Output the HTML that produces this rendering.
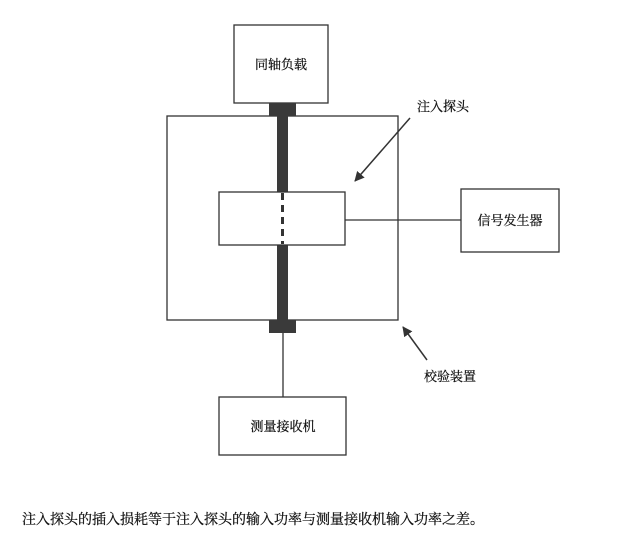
<!DOCTYPE html>
<html><head><meta charset="utf-8"><style>
body{margin:0;background:#fff;}
svg text{font-family:"Liberation Serif","Noto Serif CJK SC",serif;fill:#111;stroke:#111;stroke-width:0.25;}
</style></head><body>
<svg width="644" height="538" viewBox="0 0 644 538" xmlns="http://www.w3.org/2000/svg">
<defs><marker id="a" markerWidth="10" markerHeight="10" refX="9" refY="5" orient="auto" markerUnits="userSpaceOnUse"><path d="M0,0 L10,5 L0,10 Z" fill="#333"/></marker></defs>
<g stroke="#333" stroke-width="1.3" fill="none">
<rect x="234" y="25" width="94" height="78"/>
<rect x="167" y="116" width="231" height="204"/>
<rect x="461" y="189" width="98" height="63"/>
<rect x="219" y="397" width="127" height="58"/>
<line x1="283" y1="333" x2="283" y2="397"/>
<line x1="345" y1="220" x2="461" y2="220"/>
<line x1="410" y1="118" x2="355" y2="181" marker-end="url(#a)" stroke-width="1.5"/>
<line x1="427" y1="360" x2="403" y2="327" marker-end="url(#a)" stroke-width="1.5"/>
</g>
<rect x="269" y="103" width="27" height="13" fill="#3a3a3a"/>
<rect x="277" y="116" width="11" height="204" fill="#3a3a3a"/>
<rect x="269" y="320" width="27" height="13" fill="#3a3a3a"/>
<rect x="219" y="192" width="126" height="53" fill="#fff" stroke="#333" stroke-width="1.3"/>
<line x1="282.5" y1="193" x2="282.5" y2="244" stroke="#333" stroke-width="3" stroke-dasharray="7,5"/>
<text x="281" y="69" font-size="13" text-anchor="middle">同轴负载</text>
<text x="443" y="111" font-size="13" text-anchor="middle">注入探头</text>
<text x="510" y="225" font-size="13" text-anchor="middle">信号发生器</text>
<text x="450" y="381" font-size="13" text-anchor="middle">校验装置</text>
<text x="283" y="431" font-size="13" text-anchor="middle">测量接收机</text>
<text x="22" y="524" font-size="14">注入探头的插入损耗等于注入探头的输入功率与测量接收机输入功率之差。</text>
</svg>
</body></html>
